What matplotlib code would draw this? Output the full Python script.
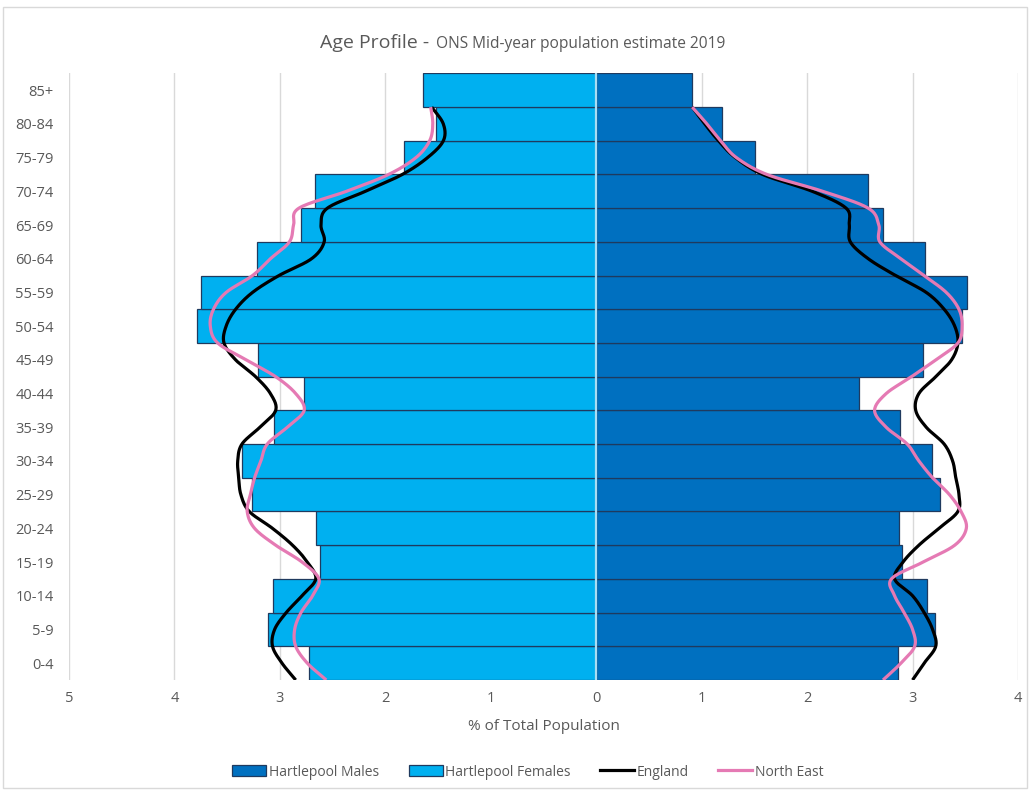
import numpy as np
import matplotlib.pyplot as plt
from matplotlib.patches import Rectangle, Patch
from matplotlib.lines import Line2D

ages = ['0-4', '5-9', '10-14', '15-19', '20-24', '25-29', '30-34', '35-39', '40-44',
        '45-49', '50-54', '55-59', '60-64', '65-69', '70-74', '75-79', '80-84', '85+']

# Hartlepool % of total population by age band
males = [2.86, 3.21, 3.14, 2.90, 2.87, 3.26, 3.18, 2.88, 2.49,
         3.10, 3.47, 3.52, 3.12, 2.72, 2.58, 1.51, 1.19, 0.91]
females = [2.72, 3.11, 3.07, 2.62, 2.66, 3.26, 3.36, 3.06, 2.77,
           3.21, 3.79, 3.75, 3.22, 2.80, 2.67, 1.82, 1.52, 1.64]

# comparison profiles, sampled every half band from the bottom of 0-4 to the top of 80-84
line_pos = np.arange(-0.5, 16.75, 0.5)
england_m = [3.00, 3.11, 3.22, 3.19, 3.11, 3.00, 2.83, 2.91, 3.06, 3.25, 3.43, 3.44,
             3.41, 3.38, 3.30, 3.13, 3.03, 3.06, 3.22, 3.37, 3.43, 3.40, 3.30, 3.13,
             2.84, 2.58, 2.41, 2.40, 2.37, 2.05, 1.58, 1.32, 1.16, 1.03, 0.91]
england_f = [2.85, 2.98, 3.07, 3.05, 2.94, 2.79, 2.66, 2.74, 2.88, 3.07, 3.29, 3.37,
             3.39, 3.40, 3.36, 3.19, 3.04, 3.09, 3.23, 3.42, 3.53, 3.51, 3.42, 3.26,
             3.01, 2.70, 2.58, 2.61, 2.55, 2.19, 1.84, 1.60, 1.45, 1.45, 1.56]
ne_m = [2.72, 2.89, 3.02, 3.00, 2.92, 2.83, 2.80, 3.10, 3.40, 3.51, 3.46, 3.35,
        3.19, 3.06, 2.95, 2.75, 2.64, 2.75, 2.99, 3.22, 3.43, 3.47, 3.44, 3.32,
        3.11, 2.89, 2.69, 2.68, 2.58, 2.15, 1.62, 1.33, 1.18, 1.05, 0.91]
ne_f = [2.56, 2.74, 2.85, 2.86, 2.80, 2.69, 2.63, 2.79, 3.04, 3.24, 3.31, 3.28,
        3.24, 3.18, 3.12, 2.93, 2.77, 2.85, 3.04, 3.32, 3.59, 3.66, 3.63, 3.51,
        3.26, 3.09, 2.91, 2.87, 2.82, 2.37, 1.97, 1.71, 1.58, 1.55, 1.57]


def smooth(xs, ys, n=16):
    # Catmull-Rom curve through the points (smoothed line)
    p = np.column_stack([xs, ys]).astype(float)
    p = np.vstack([2 * p[0] - p[1], p, 2 * p[-1] - p[-2]])
    t = np.linspace(0, 1, n, endpoint=False)[:, None]
    out = []
    for i in range(1, len(p) - 2):
        p0, p1, p2, p3 = p[i - 1], p[i], p[i + 1], p[i + 2]
        out.append(0.5 * (2 * p1 + (p2 - p0) * t + (2 * p0 - 5 * p1 + 4 * p2 - p3) * t ** 2
                          + (3 * p1 - p0 - 3 * p2 + p3) * t ** 3))
    out.append(p[-2][None])
    out = np.vstack(out)
    return out[:, 0], out[:, 1]


male_col = '#0070C0'
female_col = '#00B0F0'
edge_col = '#1F3A5F'
ne_col = '#E57AB4'
txt_col = '#595959'

plt.rcParams['font.family'] = ['Open Sans', 'DejaVu Sans']

fig = plt.figure(figsize=(10.31, 7.94), dpi=100)
ax = fig.add_axes([69 / 1031, 1 - 680 / 794, (1018 - 69) / 1031, (680 - 73.4) / 794])

pos = np.arange(len(ages))
ax.barh(pos, males, height=1, color=male_col, edgecolor=edge_col, linewidth=0.9, zorder=2)
ax.barh(pos, -np.array(females), height=1, color=female_col, edgecolor=edge_col, linewidth=0.9, zorder=2)
ax.axvline(0, color='#A9DDF3', lw=1.6, zorder=3)

for vals, sign, col in [(england_m, 1, 'black'), (england_f, -1, 'black'),
                        (ne_m, 1, ne_col), (ne_f, -1, ne_col)]:
    sx, sy = smooth(sign * np.array(vals), line_pos)
    ax.plot(sx, sy, color=col, lw=2.3, zorder=4 if col == 'black' else 5,
            solid_capstyle='butt')

ax.set_xlim(-5, 4)
ax.set_ylim(-0.5, 17.5)
ax.set_xticks(range(-5, 5))
ax.set_xticklabels([str(abs(v)) for v in range(-5, 5)])
ax.set_yticks(pos)
ax.set_yticklabels(ages)
ax.tick_params(length=0, labelsize=10.5, labelcolor=txt_col)
ax.tick_params(axis='y', pad=11)
ax.tick_params(axis='x', pad=8)
ax.grid(axis='x', color='#D9D9D9', lw=1, zorder=0)
ax.set_axisbelow(True)
for s in ax.spines.values():
    s.set_visible(False)
ax.set_xlabel('% of Total Population', fontsize=11, color=txt_col, labelpad=9)

# title in two sizes
fig.text(434 / 1031, 1 - 48 / 794, 'Age Profile - ', ha='right', va='baseline',
         fontsize=14, color=txt_col)
fig.text(436 / 1031, 1 - 48 / 794, 'ONS Mid-year population estimate 2019', ha='left',
         va='baseline', fontsize=11.2, color=txt_col)

handles = [Patch(facecolor=male_col, edgecolor=edge_col, lw=0.9),
           Patch(facecolor=female_col, edgecolor=edge_col, lw=0.9),
           Line2D([], [], color='black', lw=2.3),
           Line2D([], [], color=ne_col, lw=2.3)]
labels = ['Hartlepool Males', 'Hartlepool Females', 'England', 'North East']
fig.legend(handles, labels, loc='center', bbox_to_anchor=(528 / 1031, 1 - 772 / 794),
           ncol=4, frameon=False, fontsize=10, labelcolor=txt_col, handlelength=2.45,
           handleheight=0.9, handletextpad=0.2, columnspacing=2.1)

fig.patches.append(Rectangle((3 / 1031, 1 - 788 / 794), 1024 / 1031, 781 / 794,
                             transform=fig.transFigure, fill=False, edgecolor='#D9D9D9', lw=1))

fig.savefig('out.png', dpi=100)
